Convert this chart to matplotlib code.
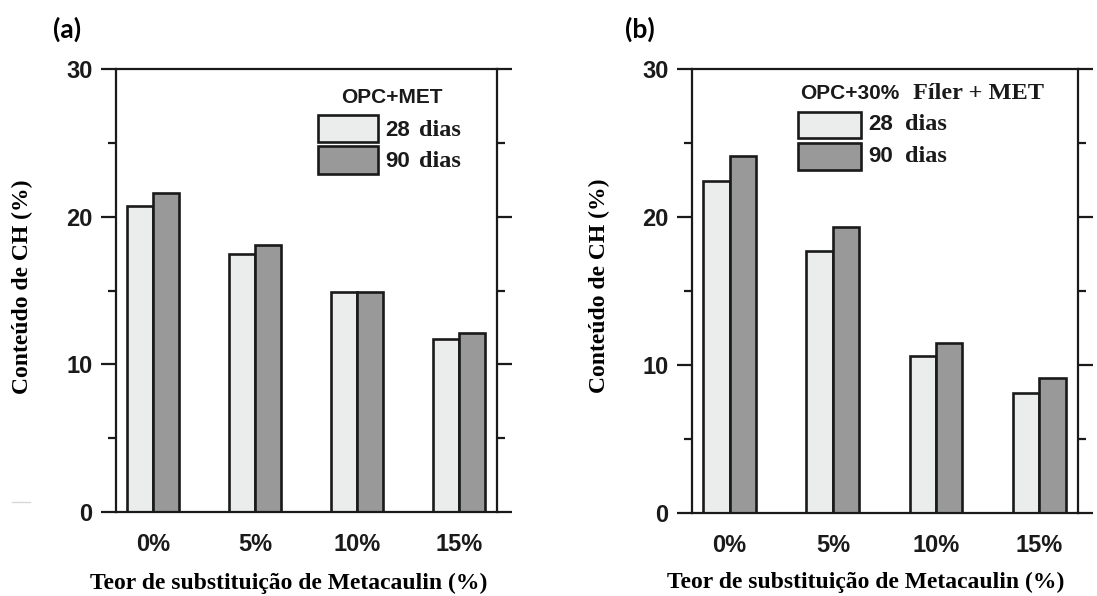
"""CH content vs metakaolin replacement, two panels (OPC+MET and OPC+30% filler+MET)."""
import matplotlib
matplotlib.use("Agg")
import matplotlib.pyplot as plt
import numpy as np
from matplotlib.lines import Line2D
from matplotlib.patches import Rectangle

CATEGORIES = ["0%", "5%", "10%", "15%"]
AGES = ["28", "90"]

# (a) OPC + MET
OPC_MET_28 = [20.7, 17.5, 14.9, 11.7]
OPC_MET_90 = [21.6, 18.1, 14.9, 12.1]

# (b) OPC + 30% filler + MET
OPC_FIL_28 = [22.4, 17.7, 10.6, 8.1]
OPC_FIL_90 = [24.1, 19.3, 11.5, 9.1]

LIGHT = "#ebedec"
DARK = "#999999"
EDGE = "#1a1a1a"
SANS = "Liberation Sans"
SERIF = "Liberation Serif"

W, H = 1097, 596


def _frac(x0, x1, y_top, y_bot):
    return [x0 / W, 1 - y_bot / H, (x1 - x0) / W, (y_bot - y_top) / H]


def _panel(fig, rect, v28, v90, letter, letter_xy, label_xy, legend):
    ax = fig.add_axes(rect)
    x = np.arange(len(CATEGORIES))
    bw = 0.255
    ax.bar(x - bw / 2, v28, bw, color=LIGHT, edgecolor=EDGE, linewidth=1.9)
    ax.bar(x + bw / 2, v90, bw, color=DARK, edgecolor=EDGE, linewidth=1.9)

    ax.set_xlim(-0.363, 3.373)
    ax.set_ylim(0, 30)
    ax.set_yticks([0, 10, 20, 30])
    ax.set_yticks([5, 15, 25], minor=True)
    ax.set_xticks(x)
    ax.set_xticklabels(CATEGORIES, fontfamily=SANS, fontweight="bold",
                       fontsize=17, color="#1a1a1a")
    ax.tick_params(axis="x", length=0, pad=15)
    ax.tick_params(axis="y", which="major", direction="out", length=11,
                   width=1.6, left=True, right=True, labelsize=17, pad=6,
                   color=EDGE)
    ax.tick_params(axis="y", which="minor", direction="out", length=6,
                   width=1.6, left=True, right=True, color=EDGE)
    for lab in ax.get_yticklabels():
        lab.set_fontfamily(SANS)
        lab.set_fontweight("bold")
        lab.set_color("#1a1a1a")
    for sp in ax.spines.values():
        sp.set_linewidth(1.6)
        sp.set_color(EDGE)

    ax.set_ylabel("Conteúdo de CH (%)", fontfamily=SERIF, fontweight="bold",
                  fontsize=17)
    ax.set_xlabel("Teor de substituição de Metacaulin (%)", fontfamily=SERIF,
                  fontweight="bold", fontsize=17)
    (ylx, yly), (xlx, xly) = label_xy
    ax.yaxis.set_label_coords(ylx, yly)
    ax.xaxis.set_label_coords(xlx, xly)

    fig.text(letter_xy[0] / W, 1 - letter_xy[1] / H, letter, fontfamily="Lato",
             fontweight="bold", fontsize=19, va="center")

    # legend drawn by hand: sans digits + serif "dias"
    (bx0, bx1, boxes, lx28, lxdias, label_y, titles) = legend
    for (y0, y1), col in zip(boxes, [LIGHT, DARK]):
        ax.add_patch(Rectangle((bx0, y0), bx1 - bx0, y1 - y0,
                               transform=ax.transAxes, facecolor=col,
                               edgecolor=EDGE, linewidth=1.9, clip_on=False))
    for age, ly in zip(AGES, label_y):
        ax.text(lx28, ly, age, transform=ax.transAxes, fontfamily=SANS,
                fontweight="bold", fontsize=16, va="center", color="#1a1a1a")
        ax.text(lxdias, ly, "dias", transform=ax.transAxes, fontfamily=SERIF,
                fontweight="bold", fontsize=17.5, va="center", color="#1a1a1a")
    for txt, tx, ty, fam, ha in titles:
        ax.text(tx, ty, txt, transform=ax.transAxes, fontfamily=fam,
                fontweight="bold", fontsize=15 if fam == SANS else 17.5,
                va="center", ha=ha, color="#1a1a1a")
    return ax


def main():
    fig = plt.figure(figsize=(W / 100, H / 100), dpi=100)

    _panel(fig, _frac(116, 497, 69, 512), OPC_MET_28, OPC_MET_90,
           "(a)", (53, 29), ((-0.218, 0.508), (0.453, -0.138)),
           (0.530, 0.688, [(0.835, 0.896), (0.763, 0.826)], 0.706, 0.795,
            [0.862, 0.792], [("OPC+MET", 0.724, 0.935, SANS, "center")]))

    _panel(fig, _frac(692, 1078, 69, 513), OPC_FIL_28, OPC_FIL_90,
           "(b)", (625, 29), ((-0.212, 0.511), (0.451, -0.133)),
           (0.275, 0.438, [(0.845, 0.903), (0.773, 0.833)], 0.456, 0.552,
            [0.874, 0.802], [("OPC+30%", 0.280, 0.944, SANS, "left"),
                             ("Fíler + MET", 0.573, 0.944, SERIF, "left")]))

    # faint stray rule left of panel (a)
    fig.add_artist(Line2D([12 / W, 30 / W], [1 - 502 / H] * 2,
                          color="#d8d8d8", linewidth=1))

    fig.savefig("out.png", dpi=100)
    plt.close(fig)


if __name__ == "__main__":
    main()
